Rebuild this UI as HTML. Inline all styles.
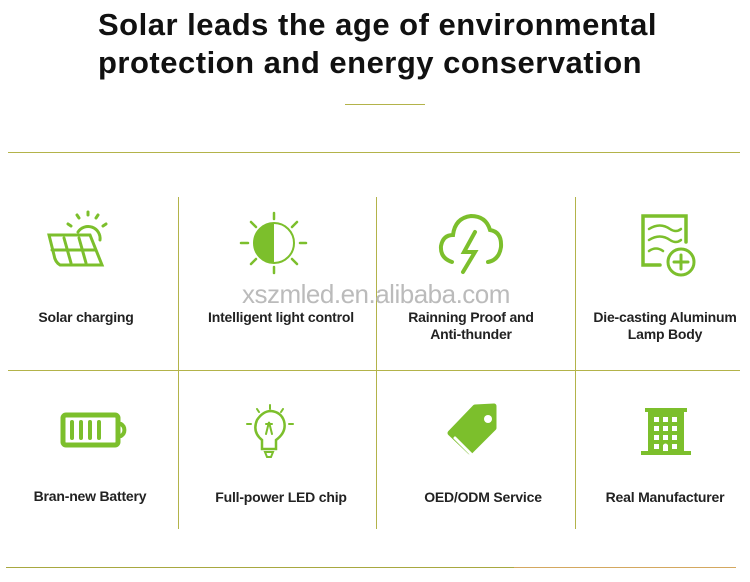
<!DOCTYPE html>
<html><head><meta charset="utf-8"><style>
body{margin:0;width:750px;height:582px;background:#fff;font-family:"Liberation Sans","DejaVu Sans",sans-serif;position:relative;overflow:hidden}
.t{position:absolute;left:98px;top:6px;font-size:31px;font-weight:bold;color:#111;line-height:38px;letter-spacing:0.5px}
.l{position:absolute;background:#b3b34a}
.lab{position:absolute;width:200px;text-align:center;font-size:14px;font-weight:bold;color:#222;line-height:17px;letter-spacing:-0.2px}
svg{position:absolute}
.wm{position:absolute;left:242px;top:279px;font-size:26px;color:#bbb;letter-spacing:-0.5px}
</style></head><body>
<div class="t">Solar leads the age of environmental<br>protection and energy conservation</div>
<div class="l" style="left:345px;top:104px;width:80px;height:1px"></div>
<div class="l" style="left:8px;top:152px;width:732px;height:1px"></div>
<div class="l" style="left:8px;top:370px;width:732px;height:1px"></div>
<div class="l" style="left:6px;top:567px;width:508px;height:1px;background:#a8a840"></div>
<div class="l" style="left:514px;top:567px;width:222px;height:1px;background:#d4a860"></div>
<div class="l" style="left:178px;top:197px;width:1px;height:332px"></div>
<div class="l" style="left:376px;top:197px;width:1px;height:332px"></div>
<div class="l" style="left:575px;top:197px;width:1px;height:332px"></div>

<svg width="750" height="582" viewBox="0 0 750 582" fill="none" stroke="#7cbf2c" stroke-width="3" stroke-linecap="round">
<path d="M49 235 L90 235 L102 265 L60 265 Q55 262 54 255 Z M52 250 L96 250 M64 238 L71 263 M79 238 L86 263"/>
<path d="M78 232 A12 12 0 0 1 100 240"/>
<path d="M88 212 L88 215 M77 215 L79 218 M98 215 L96 218 M68 224 L71 226 M106 224 L103 226"/>
<circle cx="274" cy="243" r="20" stroke-width="2"/>
<path d="M274 223 A20 20 0 0 0 274 263 Z" fill="#7cbf2c" stroke="none"/>
<path d="M274 213 L274 219 M274 267 L274 273 M241 243 L248 243 M300 243 L306 243 M251 222 L256 227 M297 222 L292 227 M251 264 L256 259 M297 264 L292 259" stroke-width="2.5"/>
<path d="M452 262 Q440 258 441 246 Q443 235 453 235 Q455 218 471 216 Q486 216 490 230 Q502 232 501 247 Q499 260 488 262" stroke-width="4"/>
<path d="M475 232 L464 252 L475 252 L463 272" stroke-width="4"/>
<path d="M660 265 L643 265 L643 216 L686 216 L686 242" stroke-width="3.5"/>
<path d="M649 229 Q660 222 670 229 Q676 233 681 229 M649 240 Q660 233 670 240 Q676 244 681 240 M649 251 Q656 246 663 251" stroke-width="2.5"/>
<circle cx="681" cy="262" r="13" stroke-width="3"/>
<path d="M681 255 L681 269 M674 262 L688 262" stroke-width="3"/>
<rect x="63" y="415" width="55" height="30" rx="3" stroke-width="5"/>
<path d="M121 424 A7 7 0 0 1 121 436" stroke-width="4"/>
<path d="M72 422 L72 438 M81 422 L81 438 M90 422 L90 438 M99 422 L99 438" stroke-width="4"/>
<path d="M262 449 L262 440 Q252 432 257 420 Q263 411 271 411 Q281 412 284 421 Q287 432 276 440 L276 449 Z" stroke-width="2.5"/>
<path d="M265 452 L273 452 L271 457 L267 457 Z M266 434 L269 422 L272 434 M266 424 L272 424" stroke-width="2"/>
<path d="M270 405 L270 409 M257 409 L259 412 M283 409 L281 412 M247 424 L251 424 M289 424 L293 424" stroke-width="2"/>
<path d="M450 433 L475 407 L494 406 L494 428 L470 452 Z" fill="#7cbf2c" stroke="#7cbf2c" stroke-width="5" stroke-linejoin="round"/>
<circle cx="488" cy="419" r="4" fill="#fff" stroke="none"/>
<path d="M455 438 L471 454" stroke="#fff" stroke-width="3"/>
<g fill="#7cbf2c" stroke="none">
<rect x="645" y="408" width="42" height="4"/>
<rect x="648" y="412" width="36" height="42"/>
<rect x="641" y="451" width="50" height="4"/>
</g>
<g fill="#fff" stroke="none">
<rect x="654" y="417" width="5" height="5"/><rect x="663" y="417" width="5" height="5"/><rect x="672" y="417" width="5" height="5"/>
<rect x="654" y="426" width="5" height="5"/><rect x="663" y="426" width="5" height="5"/><rect x="672" y="426" width="5" height="5"/>
<rect x="654" y="435" width="5" height="5"/><rect x="663" y="435" width="5" height="5"/><rect x="672" y="435" width="5" height="5"/>
<rect x="654" y="444" width="5" height="5"/><rect x="672" y="444" width="5" height="5"/>
<path d="M663 451 L663 445 Q665.5 442 668 445 L668 451 Z"/>
</g>
</svg>
<div class="wm">xszmled.en.alibaba.com</div>
<div class="lab" style="left:-14px;top:309px">Solar charging</div>
<div class="lab" style="left:181px;top:309px">Intelligent light control</div>
<div class="lab" style="left:371px;top:309px">Rainning Proof and<br>Anti-thunder</div>
<div class="lab" style="left:565px;top:309px;width:200px">Die-casting Aluminum<br>Lamp Body</div>
<div class="lab" style="left:-10px;top:488px">Bran-new Battery</div>
<div class="lab" style="left:181px;top:489px">Full-power LED chip</div>
<div class="lab" style="left:383px;top:489px">OED/ODM Service</div>
<div class="lab" style="left:565px;top:489px">Real Manufacturer</div>
</body></html>
